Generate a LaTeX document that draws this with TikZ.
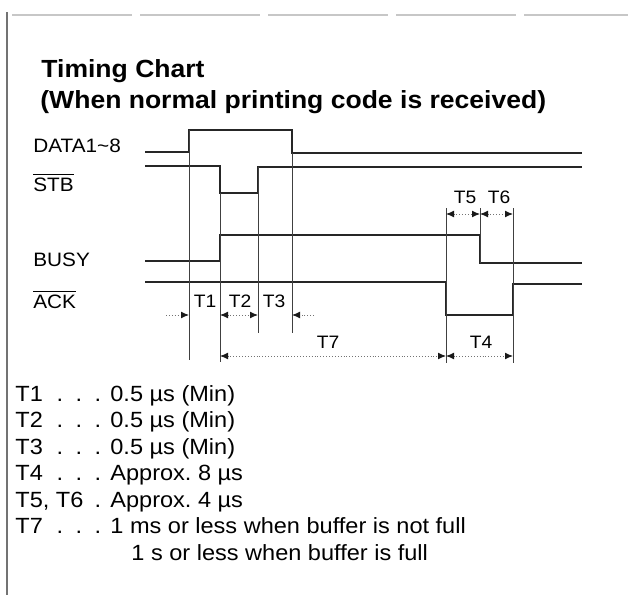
\documentclass[tikz,border=0pt]{standalone}
\usepackage{fontspec}
\setmainfont{Liberation Sans}[FakeStretch=1.07]
\usetikzlibrary{arrows.meta}
\frenchspacing

\begin{document}
\begin{tikzpicture}[x=0.5pt,y=-0.5pt,
    sig/.style={line width=0.85pt,black!85},
    guide/.style={line width=0.5pt,black!75},
    dim/.style={line width=0.45pt,black!55,densely dotted},
    frameline/.style={line width=0.6pt,black!55},
    title/.style={font=\bfseries\fontsize{12.4}{15}\selectfont,anchor=base west,inner sep=0pt},
    signame/.style={font=\fontsize{9.7}{12}\selectfont,anchor=base west,inner sep=0pt},
    tlabel/.style={font=\fontsize{9}{11}\selectfont,inner sep=0pt},
    listtext/.style={font=\fontsize{11}{13}\selectfont,anchor=base west,inner sep=0pt},
    >={Latex[length=4pt,width=3.4pt,color=black!90]}]

  \useasboundingbox (0,0) rectangle (628,595);

  % edge times
  \def\tA{189} \def\tB{220} \def\tC{258} \def\tD{292}
  \def\tE{446} \def\tF{480} \def\tG{513}
  \def\xs{145} \def\xe{582}

  % --- frame ---
  \draw[frameline] (7,12) -- (7,595);
  \draw[frameline,black!22,dash pattern=on 60pt off 4pt] (12,15) -- (628,15);

  % --- title ---
  \node[title] (title1) at (41,77) {Timing Chart};
  \node[title] (title2) at (40,108) {(When normal printing code is received)};

  % --- signal names ---
  \node[signame] (data) at (33,152) {DATA1\textasciitilde 8};
  \node[signame] (stb)  at (33,191) {$\overline{\hbox{STB}}$};
  \node[signame] (busy) at (33,266) {BUSY};
  \node[signame] (ack)  at (33,308) {$\overline{\hbox{ACK}}$};

  % --- waveforms ---
  \draw[sig] (\xs,152) -- (\tA,152) -- (\tA,130) -- (\tD,130) -- (\tD,153) -- (\xe,153);
  \draw[sig] (\xs,166) -- (\tB,166) -- (\tB,193) -- (\tC,193) -- (\tC,167) -- (\xe,167);
  \draw[sig] (\xs,261) -- (\tB,261) -- (\tB,235) -- (\tF,235) -- (\tF,263) -- (\xe,263);
  \draw[sig] (\xs,282) -- (\tE,282) -- (\tE,315) -- (\tG,315) -- (\tG,284) -- (\xe,284);

  % --- guide lines ---
  \draw[guide] (\tA,130) -- (\tA,360);
  \draw[guide] (\tB,193) -- (\tB,362);
  \draw[guide] (\tC,167) -- (\tC,333);
  \draw[guide] (\tD,153) -- (\tD,333);
  \draw[guide] (\tE,208) -- (\tE,363);
  \draw[guide] (\tF,208) -- (\tF,263);
  \draw[guide] (\tG,208) -- (\tG,363);

  % --- dimension arrows ---
  \foreach \n/\x in {a/\tA,b/\tB,c/\tC,d/\tD,e/\tE,f/\tF,g/\tG} {
    \coordinate (m\n) at (\x,315);
    \coordinate (s\n) at (\x,214);
    \coordinate (l\n) at (\x,356);
  }
  \coordinate (mL) at (166,315);
  \coordinate (mR) at (314,315);
  \draw[dim,->]  (mL) -- (ma);
  \draw[dim,<->] (mb) -- (mc);
  \draw[dim,->]  (mR) -- (md);
  \draw[dim,<->] (lb) -- (le);
  \draw[dim,<->] (le) -- (lg);
  \draw[dim,<->] (se) -- (sf);
  \draw[dim,<->] (sf) -- (sg);

  \node[tlabel] (lT1) at (205,301) {T1};
  \node[tlabel] (lT2) at (240,301) {T2};
  \node[tlabel] (lT3) at (274,301) {T3};
  \node[tlabel] (lT7) at (328,342) {T7};
  \node[tlabel] (lT4) at (481,342) {T4};
  \node[tlabel] (lT5) at (465,197) {T5};
  \node[tlabel] (lT6) at (499,197) {T6};

  % --- legend ---
  \foreach \k/\d/\v [count=\i] in {T1/3/{0.5 µs (Min)}, T2/3/{0.5 µs (Min)},
      T3/3/{0.5 µs (Min)}, T4/3/{Approx. 8 µs}, {T5, T6}/1/{Approx. 4 µs},
      T7/3/{1 ms or less when buffer is not full}} {
    \pgfmathsetmacro{\y}{401+26.5*(\i-1)}
    \node[listtext] (key\i) at (15,\y) {\k};
    \foreach \j in {1,...,\d}
      \node[listtext,anchor=base] (dot\i\j) at (98-19*\j+19,\y) {.};
    \node[listtext] (val\i) at (110,\y) {\v};
  }
  \node[listtext] (val8) at (131,560) {1 s or less when buffer is full};

\end{tikzpicture}
\end{document}
